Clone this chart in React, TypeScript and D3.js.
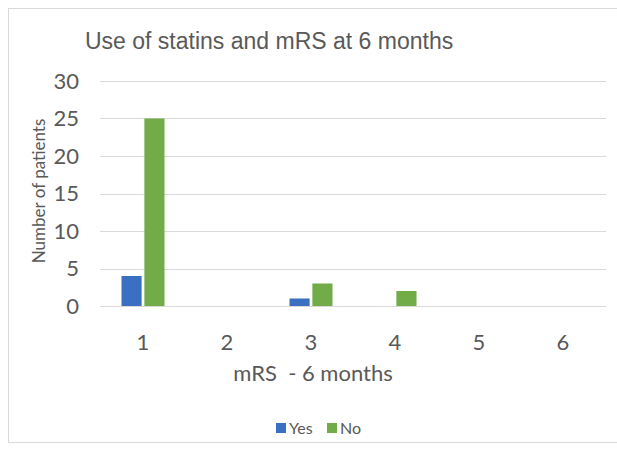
/*eslint-disable*/
import React, { useEffect, useRef } from 'react';
import * as d3 from 'd3';

const categories = ['1', '2', '3', '4', '5', '6'];
const yesValues = [4, 0, 1, 0, 0, 0];
const noValues = [25, 0, 3, 2, 0, 0];
const yTicks = [0, 5, 10, 15, 20, 25, 30];
const seriesNames = ['Yes', 'No'];
const seriesColors = ['#3a6fc1', '#71ac48'];

const App: React.FC = () => {
  const svgRef = useRef<SVGSVGElement>(null);
  useEffect(() => {
    const W = 617, H = 450;
    const plot = { left: 101, right: 605, top: 81, bottom: 306 };
    const textColor = '#595959';
    const font = 'Lato, "Open Sans", sans-serif';
    const svg = d3.select(svgRef.current).attr('width', W).attr('height', H);
    svg.selectAll('*').remove();

    svg.append('rect')
      .attr('x', 8.5).attr('y', 8.5)
      .attr('width', W).attr('height', 434)
      .attr('fill', '#fff')
      .attr('stroke', '#d9d9d9');

    const x = d3.scaleBand().domain(categories).range([plot.left, plot.right]);
    const inner = d3.scaleBand().domain(seriesNames).range([20.5, x.bandwidth() - 20.5]).paddingInner(0.12);
    const y = d3.scaleLinear().domain([0, 30]).range([plot.bottom, plot.top]);

    // gridlines
    svg.append('g').selectAll('line').data(yTicks).enter().append('line')
      .attr('x1', plot.left - 1).attr('x2', plot.right + 1)
      .attr('y1', d => Math.round(y(d)) + 0.5).attr('y2', d => Math.round(y(d)) + 0.5)
      .attr('stroke', '#d9d9d9').attr('stroke-width', 1);

    // y tick labels
    svg.append('g').selectAll('text').data(yTicks).enter().append('text')
      .attr('x', 79).attr('y', d => y(d))
      .attr('dy', '0.36em')
      .attr('text-anchor', 'end')
      .attr('font-family', font)
      .attr('font-size', 22)
      .attr('fill', textColor)
      .text(d => d);

    // bars
    const series = [yesValues, noValues];
    series.forEach((vals, si) => {
      svg.append('g').selectAll('rect').data(vals).enter().append('rect')
        .attr('x', (d, i) => x(categories[i])! + inner(seriesNames[si])!)
        .attr('y', d => y(d))
        .attr('width', inner.bandwidth())
        .attr('height', d => y(0) - y(d))
        .attr('fill', seriesColors[si]);
    });

    // x tick labels
    svg.append('g').selectAll('text').data(categories).enter().append('text')
      .attr('x', d => x(d)! + x.bandwidth() / 2)
      .attr('y', 350)
      .attr('text-anchor', 'middle')
      .attr('font-family', font)
      .attr('font-size', 22)
      .attr('fill', textColor)
      .text(d => d);

    // title
    svg.append('text')
      .attr('x', 85).attr('y', 49)
      .attr('font-family', '"Liberation Sans", Arial, sans-serif')
      .attr('font-size', 23)
      .attr('fill', textColor)
      .text('Use of statins and mRS at 6 months');

    // axis titles
    svg.append('text')
      .attr('x', 313).attr('y', 381)
      .attr('text-anchor', 'middle')
      .attr('font-family', font)
      .attr('font-size', 22)
      .attr('fill', textColor)
      .style('white-space', 'pre')
      .text('mRS  - 6 months');

    svg.append('text')
      .attr('transform', 'translate(45,191) rotate(-90)')
      .attr('text-anchor', 'middle')
      .attr('font-family', font)
      .attr('font-size', 17)
      .attr('fill', textColor)
      .text('Number of patients');

    // legend
    const legendX = [276, 327];
    seriesNames.forEach((name, i) => {
      svg.append('rect')
        .attr('x', legendX[i]).attr('y', 423)
        .attr('width', 10).attr('height', 10)
        .attr('fill', seriesColors[i]);
      svg.append('text')
        .attr('x', legendX[i] + 13).attr('y', 434)
        .attr('font-family', font)
        .attr('font-size', 16)
        .attr('fill', textColor)
        .text(name);
    });
  }, []);

  return <svg ref={svgRef} style={{ position: 'absolute', left: 0, top: 0 }}></svg>;
};

export default App;
